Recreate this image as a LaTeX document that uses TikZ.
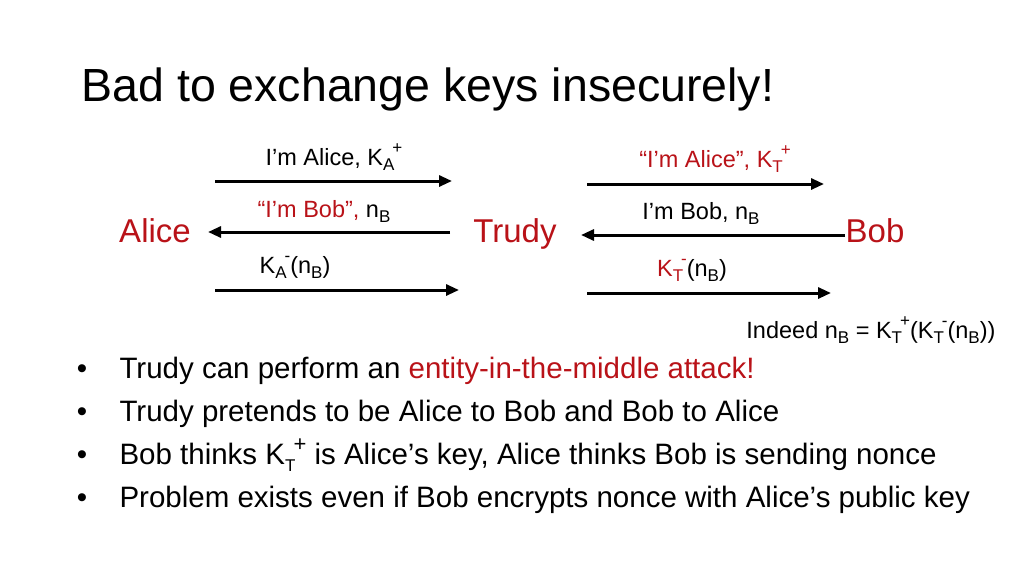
\documentclass[tikz,border=0pt]{standalone}
\usepackage{fontspec}
\setmainfont{Liberation Sans}
\usetikzlibrary{arrows.meta}
\definecolor{dred}{RGB}{185,18,24}
\newcommand{\mysub}[1]{\raisebox{-0.45ex}{\fontsize{17}{17}\selectfont #1}}
\newcommand{\mysup}[1]{\raisebox{0.9ex}{\fontsize{17}{17}\selectfont #1}}
\begin{document}
\begin{tikzpicture}[x=1pt,y=-1pt,
  lbl/.style={font=\fontsize{23.5}{26}\selectfont, anchor=base},
  actor/.style={font=\fontsize{33}{36}\selectfont, text=dred, anchor=base},
  msg/.style={line width=3pt,-{Triangle[length=13pt,width=11pt]}},
  bul/.style={font=\fontsize{29.5}{32}\selectfont, anchor=base west}]
\useasboundingbox (0,0) rectangle (1024,576);
\node[anchor=base west, font=\fontsize{46.5}{50}\selectfont] (title) at (78,101) {Bad to exchange keys insecurely!};
\node[actor] (alice) at (155,242) {Alice};
\node[actor] (trudy) at (515,242) {Trudy};
\node[actor] (bob) at (875,242) {Bob};
\coordinate (a1s) at (215,181); \coordinate (a1e) at (452,181);
\coordinate (a2s) at (450,232); \coordinate (a2e) at (208,232);
\coordinate (a3s) at (215,290); \coordinate (a3e) at (459,290);
\coordinate (b1s) at (587,184); \coordinate (b1e) at (824,184);
\coordinate (b2s) at (845,235); \coordinate (b2e) at (581,235);
\coordinate (b3s) at (587,293); \coordinate (b3e) at (831,293);
\draw[msg] (a1s) -- (a1e);
\draw[msg] (a2s) -- (a2e);
\draw[msg] (a3s) -- (a3e);
\draw[msg] (b1s) -- (b1e);
\draw[msg] (b2s) -- (b2e);
\draw[msg] (b3s) -- (b3e);
\node[lbl] (l1) at (334,165) {I’m Alice, K\mysub{A}\hspace{-2pt}\mysup{+}};
\node[lbl] (l2) at (324,217) {\textcolor{dred}{“I’m Bob”,} n\mysub{B}};
\node[lbl] (l3) at (295,273) {K\mysub{A}\hspace{-2pt}\mysup{-}(n\mysub{B})};
\node[lbl] (r1) at (715,167) {\textcolor{dred}{“I’m Alice”,} \textcolor{dred}{K\mysub{T}\hspace{-2pt}\mysup{+}}};
\node[lbl] (r2) at (701,219) {I’m Bob, n\mysub{B}};
\node[lbl] (r3) at (692,276) {\textcolor{dred}{K\mysub{T}\hspace{-2pt}\mysup{-}}(n\mysub{B})};
\node[lbl, anchor=base east] (ind) at (999,338) {Indeed n\mysub{B} = K\mysub{T}\hspace{-2pt}\mysup{+}(K\mysub{T}\hspace{-2pt}\mysup{-}(n\mysub{B}))};
\foreach \y/\t [count=\i] in {
 378/{Trudy can perform an \textcolor{dred}{entity-in-the-middle attack!}},
 421/{Trudy pretends to be Alice to Bob and Bob to Alice},
 464/{Bob thinks K\mysub{T}\hspace{-2pt}\raisebox{0.8ex}{\fontsize{22}{22}\selectfont +}\ is Alice’s key, Alice thinks Bob is sending nonce},
 507/{Problem exists even if Bob encrypts nonce with Alice’s public key}}{
 \node[bul] (b\i) at (116,\y) {\t};
 \node[bul, anchor=base] (d\i) at (82,\y) {•};
}
\end{tikzpicture}
\end{document}
